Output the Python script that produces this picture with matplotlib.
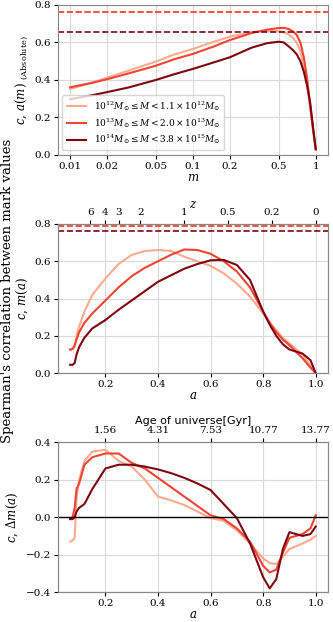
import numpy as np
import matplotlib
matplotlib.use('Agg')
import matplotlib.pyplot as plt
from matplotlib import cm

plt.rcParams['font.family'] = ['DejaVu Serif']
plt.rcParams['mathtext.fontset'] = 'dejavuserif'

# --- panel 1 : c, a(m) vs m
m_vals = [0.01, 0.015, 0.02, 0.03, 0.05, 0.07, 0.1, 0.15, 0.2, 0.3, 0.4, 0.5, 0.55, 0.6,
          0.65, 0.7, 0.75, 0.8, 0.85, 0.9, 0.95, 1.0]
am_light = [0.352, 0.385, 0.412, 0.45, 0.498, 0.535, 0.565, 0.605, 0.631, 0.655, 0.662, 0.66, 0.655, 0.644,
            0.625, 0.6, 0.55, 0.47, 0.37, 0.25, 0.13, 0.03]
am_mid = [0.361, 0.384, 0.404, 0.435, 0.476, 0.51, 0.539, 0.58, 0.613, 0.65, 0.668, 0.677, 0.678, 0.672,
          0.66, 0.64, 0.6, 0.52, 0.41, 0.27, 0.14, 0.03]
am_dark = [0.297, 0.318, 0.335, 0.36, 0.40, 0.43, 0.459, 0.495, 0.521, 0.572, 0.596, 0.604, 0.6, 0.58,
           0.56, 0.537, 0.5, 0.444, 0.37, 0.28, 0.15, 0.03]
am_max = [0.764, 0.764, 0.654]

# --- panel 2 : c, m(a) vs a
a_vals = [0.066, 0.075, 0.083, 0.09, 0.1, 0.12, 0.15, 0.2, 0.25, 0.3, 0.35, 0.4, 0.45, 0.5, 0.55, 0.6,
          0.65, 0.7, 0.75, 0.8, 0.825, 0.85, 0.875, 0.9, 0.95, 0.98, 1.0]
ma_light = [0.127, 0.13, 0.14, 0.2, 0.25, 0.33, 0.42, 0.508, 0.585, 0.634, 0.655, 0.66, 0.655, 0.624, 0.6, 0.575,
            0.535, 0.48, 0.41, 0.32, 0.27, 0.23, 0.19, 0.16, 0.1, 0.04, 0.0]
ma_mid = [0.127, 0.13, 0.15, 0.18, 0.22, 0.27, 0.32, 0.39, 0.46, 0.52, 0.565, 0.6, 0.635, 0.663, 0.66, 0.64,
          0.6, 0.545, 0.46, 0.33, 0.27, 0.22, 0.18, 0.15, 0.08, 0.03, 0.0]
ma_dark = [0.045, 0.045, 0.055, 0.1, 0.14, 0.19, 0.24, 0.285, 0.34, 0.39, 0.44, 0.49, 0.525, 0.56, 0.585, 0.605,
           0.607, 0.58, 0.5, 0.33, 0.26, 0.2, 0.155, 0.127, 0.105, 0.07, 0.0]
ma_max = [0.788, 0.788, 0.761]

# --- panel 3 : c, Delta m(a) vs a
dm_light = [-0.13, -0.125, -0.11, 0.1, 0.2, 0.3, 0.35, 0.36, 0.3, 0.27, 0.2, 0.11, 0.09, 0.065, 0.03, -0.005,
            -0.02, -0.07, -0.14, -0.22, -0.245, -0.25, -0.21, -0.17, -0.14, -0.12, -0.1]
dm_mid = [-0.01, 0.0, 0.05, 0.15, 0.18, 0.28, 0.32, 0.34, 0.34, 0.29, 0.26, 0.21, 0.16, 0.11, 0.06, 0.01,
          -0.01, -0.06, -0.13, -0.26, -0.295, -0.28, -0.19, -0.11, -0.09, -0.06, 0.01]
dm_dark = [-0.01, -0.01, 0.0, 0.03, 0.05, 0.07, 0.15, 0.26, 0.28, 0.28, 0.27, 0.255, 0.235, 0.21, 0.18, 0.145,
           0.07, -0.005, -0.14, -0.32, -0.38, -0.33, -0.17, -0.08, -0.1, -0.09, -0.05]

labels = [r'$10^{12}M_{\odot} \leq M < 1.1\times10^{12}M_{\odot}$',
          r'$10^{13}M_{\odot} \leq M < 2.0\times10^{13}M_{\odot}$',
          r'$10^{14}M_{\odot} \leq M < 3.8\times10^{15}M_{\odot}$']
colors = [cm.Reds(0.3), cm.Reds(0.6), cm.Reds(0.95)]

z_ticks = [6, 4, 3, 2, 1, 0.5, 0.2, 0]
age_ticks = [0.2, 0.4, 0.6, 0.8, 1.0]
age_labels = ['1.56', '4.31', '7.53', '10.77', '13.77']

fig = plt.figure(figsize=(3.33, 6.22), dpi=100)
ax1 = fig.add_axes([0.174, 0.751, 0.811, 0.241])
ax2 = fig.add_axes([0.174, 0.400, 0.811, 0.240])
ax3 = fig.add_axes([0.174, 0.048, 0.811, 0.241])

for ys, c, lab in zip([am_light, am_mid, am_dark], colors, labels):
    ax1.plot(m_vals, ys, color=c, lw=1.5, label=lab)
for v, c in zip(am_max, colors):
    ax1.axhline(v, color=c, ls='--', lw=1.2)
ax1.set_xscale('log')
ax1.set_xticks([0.01, 0.02, 0.05, 0.1, 0.2, 0.5, 1])
ax1.set_xticklabels(['0.01', '0.02', '0.05', '0.1', '0.2', '0.5', '1'])
ax1.minorticks_off()
ax1.set_ylim(0, 0.8)
ax1.set_xlabel(r'$m$', fontsize=8.5, labelpad=0)
ax1.set_ylabel(r'$c,\, a(m)$ $_{\rm (Absolute)}$', fontsize=8.5)
ax1.yaxis.set_label_coords(-0.104, 0.5)
ax1.legend(loc='lower left', fontsize=6.5, handlelength=2.2, borderpad=0.45, labelspacing=0.3)

for ys, c in zip([ma_light, ma_mid, ma_dark], colors):
    ax2.plot(a_vals, ys, color=c, lw=1.5)
for v, c in zip(ma_max, colors):
    ax2.axhline(v, color=c, ls='--', lw=1.2, clip_on=False)
ax2.set_ylim(0, 0.8)
ax2.set_xticks([0.2, 0.4, 0.6, 0.8, 1.0])
ax2.set_xlabel(r'$a$', fontsize=8.5, labelpad=0)
ax2.set_ylabel(r'$c,\, m(a)$', fontsize=8.5)
ax2.yaxis.set_label_coords(-0.104, 0.5)
top2 = ax2.twiny()
top2.set_xlim(ax2.get_xlim())
top2.set_xticks([1.0 / (1.0 + z) for z in z_ticks])
top2.set_xticklabels([str(z) for z in z_ticks], fontsize=7.5)
top2.set_xlabel(r'$z$', fontsize=8.5, labelpad=0)

for ys, c in zip([dm_light, dm_mid, dm_dark], colors):
    ax3.plot(a_vals, ys, color=c, lw=1.5)
ax3.axhline(0, color='black', lw=1)
ax3.set_ylim(-0.4, 0.4)
ax3.set_xticks([0.2, 0.4, 0.6, 0.8, 1.0])
ax3.set_xlabel(r'$a$', fontsize=8.5, labelpad=0)
ax3.set_ylabel(r'$c,\, \Delta m(a)$', fontsize=8.5)
ax3.yaxis.set_label_coords(-0.14, 0.5)
top3 = ax3.twiny()
top3.set_xlim(ax3.get_xlim())
top3.set_xticks(age_ticks)
top3.set_xticklabels(age_labels, fontsize=7.5)
top3.set_xlabel('Age of universe[Gyr]', fontsize=8, family='DejaVu Sans', labelpad=2)

for ax in [ax1, ax2, ax3]:
    ax.grid(True, color='#d9d9d9', lw=0.8)
    ax.tick_params(labelsize=7.5, length=3, pad=2)
    for s in ax.spines.values():
        s.set_color('#888888')
for ax in [top2, top3]:
    ax.tick_params(length=3, pad=2)
    for s in ax.spines.values():
        s.set_color('#888888')

fig.text(0.022, 0.532, "Spearman's correlation between mark values", rotation=90,
         va='center', ha='center', fontsize=9.5)

fig.savefig('out.png', dpi=100)
